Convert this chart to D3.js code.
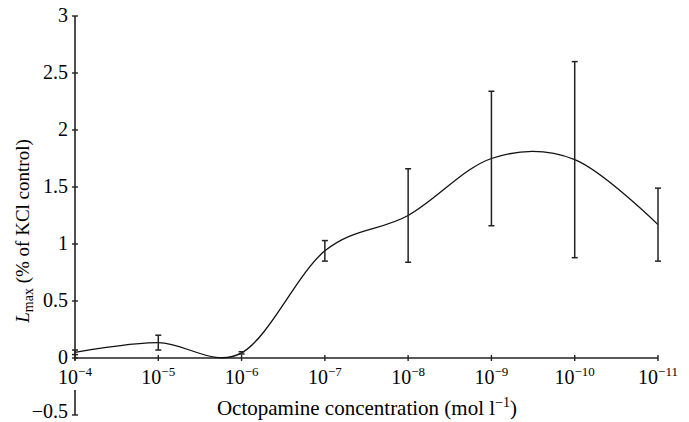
<!DOCTYPE html>
<html>
<head>
<meta charset="utf-8">
<script src="https://cdn.jsdelivr.net/npm/d3@7"></script>
<style>
  html, body { margin: 0; padding: 0; background: #fff; }
  svg { display: block; }
</style>
</head>
<body>
<svg id="chart" width="689" height="422" font-family="'Liberation Serif', 'DejaVu Serif', serif"></svg>
<script>
// Octopamine concentration, as powers of ten (mol l-1), highest first
const exponents = [-4, -5, -6, -7, -8, -9, -10, -11];
// Mean Lmax (% of KCl control) at each concentration
const meanValues = [0.05, 0.134, 0.045, 0.94, 1.25, 1.75, 1.74, 1.17];
// Error bar ends
const errLow  = [0.03, 0.07, 0.035, 0.85, 0.84, 1.16, 0.88, 0.85];
const errHigh = [0.07, 0.20, 0.055, 1.03, 1.66, 2.34, 2.60, 1.49];
// y-axis ticks and the two drawn pieces of the broken y-axis
const yTicks = [-0.5, 0, 0.5, 1, 1.5, 2, 2.5, 3];
const yAxisPieces = [[3, -0.02], [-0.28, -0.5]];

const svg = d3.select("#chart");

const x = d3.scalePoint().domain(exponents).range([75, 658]);
const y = d3.scaleLinear().domain([-0.5, 3]).range([415, 16]);

const axisColor = "#222";
const tickFont = 20, supFont = 13;

// Broken y-axis line
svg.append("g").selectAll("line").data(yAxisPieces).join("line")
  .attr("x1", x(-4)).attr("x2", x(-4))
  .attr("y1", d => y(d[0])).attr("y2", d => y(d[1]))
  .attr("stroke", axisColor).attr("stroke-width", 1.6);

// y ticks crossing the axis
svg.append("g").selectAll("line").data(yTicks).join("line")
  .attr("x1", x(-4) - 3).attr("x2", x(-4) + 3)
  .attr("y1", d => y(d)).attr("y2", d => y(d))
  .attr("stroke", axisColor).attr("stroke-width", 1.4);

// y tick labels (the lowest one sits just above the bottom edge)
svg.append("g").selectAll("text").data(yTicks).join("text")
  .attr("x", x(-4) - 7).attr("y", d => Math.min(y(d) + 6, 418))
  .attr("text-anchor", "end").attr("font-size", tickFont)
  .text(d => d < 0 ? "\u2212" + Math.abs(d) : String(d));

// x-axis along y = 0
svg.append("line")
  .attr("x1", x(-4)).attr("x2", x(-11))
  .attr("y1", y(0)).attr("y2", y(0))
  .attr("stroke", axisColor).attr("stroke-width", 1.6);

svg.append("g").selectAll("line").data(exponents).join("line")
  .attr("x1", d => x(d)).attr("x2", d => x(d))
  .attr("y1", y(0) - 3).attr("y2", y(0) + 3)
  .attr("stroke", axisColor).attr("stroke-width", 1.4);

// x tick labels: 10 with a superscript exponent
const xLabels = svg.append("g").selectAll("text").data(exponents).join("text")
  .attr("x", d => x(d)).attr("y", y(0) + 26)
  .attr("text-anchor", "middle").attr("font-size", tickFont);
xLabels.append("tspan").text("10");
xLabels.append("tspan").attr("font-size", supFont).attr("dy", -8)
  .text(d => "\u2212" + Math.abs(d));

// Smoothed response curve
const line = d3.line()
  .x((d, i) => x(exponents[i]))
  .y(d => y(d))
  .curve(d3.curveCardinal.tension(0));
svg.append("path")
  .datum(meanValues)
  .attr("d", line)
  .attr("fill", "none")
  .attr("stroke", "#111")
  .attr("stroke-width", 1.3);

// Error bars
const eb = svg.append("g").attr("stroke", "#222").attr("stroke-width", 1.5);
exponents.forEach((e, i) => {
  const cx = x(e);
  eb.append("line").attr("x1", cx).attr("x2", cx)
    .attr("y1", y(errLow[i])).attr("y2", y(errHigh[i]));
  [errLow[i], errHigh[i]].forEach(v => {
    eb.append("line").attr("x1", cx - 3).attr("x2", cx + 3)
      .attr("y1", y(v)).attr("y2", y(v));
  });
});

// Axis titles
const xt = svg.append("text")
  .attr("x", 367).attr("y", 415)
  .attr("text-anchor", "middle").attr("font-size", 21);
xt.append("tspan").text("Octopamine concentration (mol l");
xt.append("tspan").attr("font-size", 14).attr("dy", -8).text("\u22121");
xt.append("tspan").attr("dy", 8).text(")");

const yt = svg.append("text")
  .attr("transform", "translate(29,231) rotate(-90)")
  .attr("text-anchor", "middle").attr("font-size", 19);
yt.append("tspan").attr("font-style", "italic").text("L");
yt.append("tspan").attr("font-size", 14).attr("dy", 4).text("max");
yt.append("tspan").attr("dy", -4).text(" (% of KCl control)");
</script>
</body>
</html>
